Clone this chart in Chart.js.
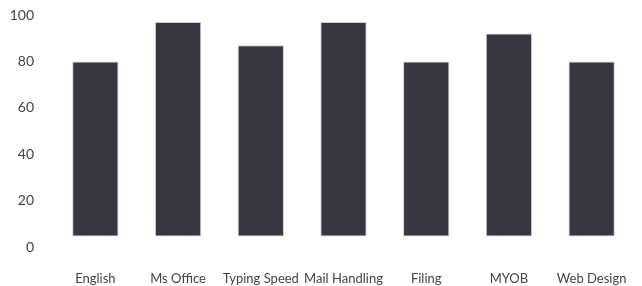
<!DOCTYPE html>
<html>
<head>
<meta charset="utf-8">
<script src="https://cdn.jsdelivr.net/npm/chart.js@4/dist/chart.umd.min.js"></script>
<style>
html,body{margin:0;padding:0;background:#fff;overflow:hidden;}
canvas{display:block;}
</style>
</head>
<body>
<canvas id="c" width="642" height="286" style="width:642px;height:286px"></canvas>
<script>
const categories = ["English", "Ms Office", "Typing Speed", "Mail Handling", "Filing", "MYOB", "Web Design"];
const skillValues = [80, 97, 87, 97, 80, 92, 80];
const tickValues = [0, 20, 40, 60, 80, 100];
const barBase = 4.5;

Chart.defaults.font.family = "Lato, 'Open Sans', sans-serif";
Chart.defaults.font.size = 14;
Chart.defaults.color = '#444444';

new Chart(document.getElementById('c'), {
  type: 'bar',
  data: {
    labels: categories,
    datasets: [{
      data: skillValues,
      base: barBase,
      backgroundColor: '#383741',
      borderColor: '#cdcdd2',
      borderWidth: 1,
      borderSkipped: false,
      barPercentage: 0.7,
      categoryPercentage: 0.8
    }]
  },
  options: {
    responsive: false,
    devicePixelRatio: 1,
    animation: false,
    layout: { padding: { left: 10, right: 9, top: 15, bottom: 0 } },
    plugins: { legend: { display: false }, tooltip: { enabled: false } },
    scales: {
      x: {
        grid: { display: false, drawTicks: false },
        border: { display: false },
        ticks: { padding: 24, maxRotation: 0, autoSkip: false, font: { size: 13 } },
        afterFit: (s) => { s.height = 39; s.paddingLeft = 0; s.paddingRight = 0; s.paddingTop = 0; s.paddingBottom = 0; }
      },
      y: {
        min: 0,
        max: 100,
        afterBuildTicks: (axis) => { axis.ticks = tickValues.map(v => ({ value: v })); },
        grid: { display: false, drawTicks: false },
        border: { display: false },
        ticks: { padding: 20 },
        afterFit: (s) => { s.width = 44; s.paddingLeft = 0; s.paddingRight = 0; s.paddingTop = 0; s.paddingBottom = 0; }
      }
    }
  }
});
</script>
</body>
</html>
